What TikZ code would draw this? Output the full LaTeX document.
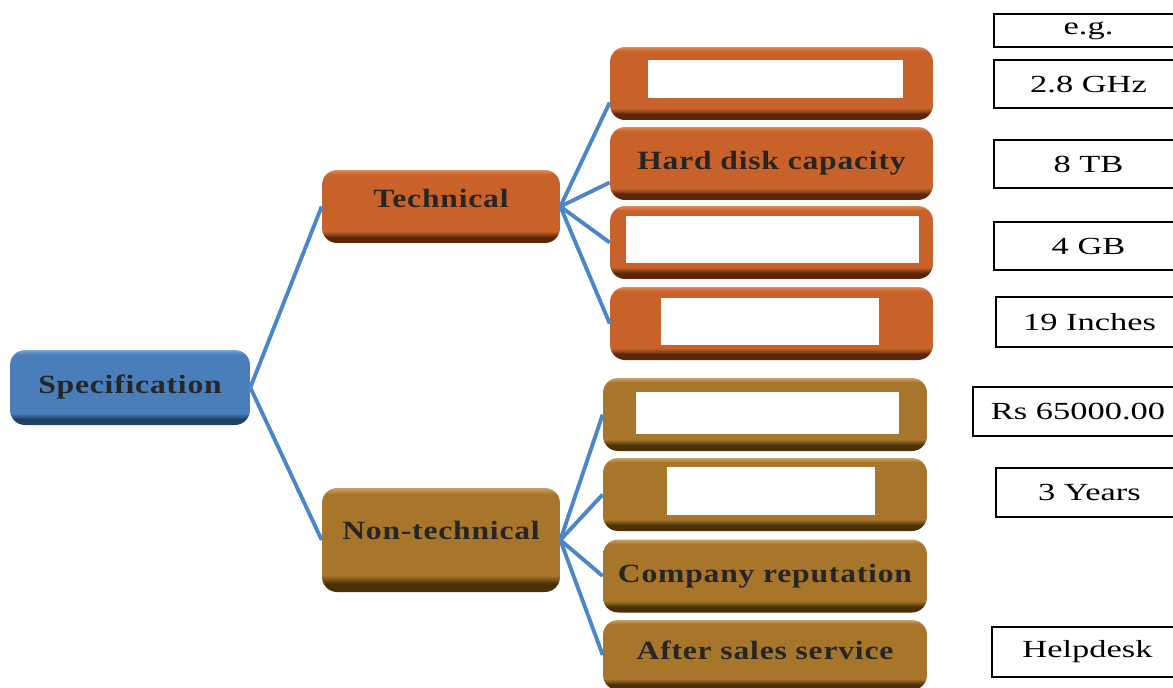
\documentclass[tikz,border=0pt]{standalone}
\usepackage{fontspec}
\setmainfont{Liberation Serif}
\newfontfamily\treefont[FakeStretch=1.2,LetterSpace=3]{Liberation Serif}
\newfontfamily\valfont[FakeStretch=1.4]{Liberation Serif}

\definecolor{specbase}{HTML}{4A7EBB}
\definecolor{specdark}{HTML}{1F3F66}
\definecolor{speclight}{HTML}{7EA6D6}
\definecolor{techbase}{HTML}{C8622A}
\definecolor{techdark}{HTML}{5A2508}
\definecolor{techlight}{HTML}{E08A5A}
\definecolor{nonbase}{HTML}{A8762B}
\definecolor{nondark}{HTML}{4A3008}
\definecolor{nonlight}{HTML}{C9A066}
\definecolor{linkblue}{HTML}{4A86C8}

\pgfdeclareverticalshading{specshade}{100bp}{color(0bp)=(specdark); color(29bp)=(specdark); color(33bp)=(specbase); color(72bp)=(specbase); color(75bp)=(speclight); color(100bp)=(speclight)}
\pgfdeclareverticalshading{techshade}{100bp}{color(0bp)=(techdark); color(29bp)=(techdark); color(33bp)=(techbase); color(72bp)=(techbase); color(75bp)=(techlight); color(100bp)=(techlight)}
\pgfdeclareverticalshading{nonshade}{100bp}{color(0bp)=(nondark); color(29bp)=(nondark); color(33bp)=(nonbase); color(72bp)=(nonbase); color(75bp)=(nonlight); color(100bp)=(nonlight)}

\tikzset{
  treebox/.style={rounded corners=0.3cm, inner sep=0pt, text=black!85,
    font=\treefont\bfseries\fontsize{15}{17}\selectfont},
  specbox/.style={treebox, shading=specshade},
  techbox/.style={treebox, shading=techshade},
  nonbox/.style={treebox, shading=nonshade},
  answer/.style={fill=white, inner sep=0pt},
  valbox/.style={line width=1.1pt, font=\valfont\fontsize{14}{16}\selectfont},
  link/.style={draw=linkblue, line width=2.2pt}
}

\begin{document}
\begin{tikzpicture}[x=0.02cm, y=-0.02cm]
	\clip (0,0) rectangle (1173,687);
	
	% tree
	\node[specbox, minimum width=4.8cm, minimum height=1.5cm] (spec) at (130,387.5) {Specification};
	\node[techbox, minimum width=4.76cm, minimum height=1.46cm, text depth=0.34cm] (tech) at (441,206.5) {Technical};
	\node[nonbox, minimum width=4.76cm, minimum height=2.08cm, text depth=0.4cm] (nontech) at (441,540) {Non-technical};
	
	\node[techbox, minimum width=6.46cm, minimum height=1.46cm] (cpu) at (771.5,83.5) {};
	\node[techbox, minimum width=6.46cm, minimum height=1.46cm] (hdd) at (771.5,163.5) {Hard disk capacity};
	\node[techbox, minimum width=6.46cm, minimum height=1.46cm] (ram) at (771.5,242.5) {};
	\node[techbox, minimum width=6.46cm, minimum height=1.46cm] (screen) at (771.5,323.5) {};
	
	\node[nonbox, minimum width=6.48cm, minimum height=1.46cm] (price) at (765,414.5) {};
	\node[nonbox, minimum width=6.48cm, minimum height=1.46cm] (warranty) at (765,494.5) {};
	\node[nonbox, minimum width=6.48cm, minimum height=1.46cm] (company) at (765,576) {Company reputation};
	\node[nonbox, minimum width=6.48cm, minimum height=1.4cm, text depth=0.2cm] (service) at (765,655) {After sales service};
	
	% blank answer boxes
	\node[answer, minimum width=5.1cm, minimum height=0.76cm] (cpu-ans) at (775.5,79) {};
	\node[answer, minimum width=5.86cm, minimum height=0.94cm] (ram-ans) at (772.5,239.5) {};
	\node[answer, minimum width=4.36cm, minimum height=0.94cm] (screen-ans) at (770,321.5) {};
	\node[answer, minimum width=5.26cm, minimum height=0.84cm] (price-ans) at (767.5,413) {};
	\node[answer, minimum width=4.16cm, minimum height=0.96cm] (warranty-ans) at (771,491) {};
	
	% links
	\draw[link] (spec.east) -- (tech.west);
	\draw[link] (spec.east) -- (nontech.west);
	
	\draw[link] (tech.east) -- ([yshift=-0.38cm]cpu.west);
	\draw[link] (tech.east) -- ([yshift=-0.38cm]hdd.west);
	\draw[link] (tech.east) -- (ram.west);
	\draw[link] (tech.east) -- (screen.west);
	
	\draw[link] (nontech.east) -- (price.west);
	\draw[link] (nontech.east) -- (warranty.west);
	\draw[link] (nontech.east) -- (company.west);
	\draw[link] (nontech.east) -- (service.west);
	
	% examples
	\draw[valbox] (994,14) rectangle (1183,47) node[midway] (eg) {e.g.};
	\draw[valbox] (994,60) rectangle (1183,108) node[midway] (ghz) {2.8 GHz};
	\draw[valbox] (994,140) rectangle (1183,188) node[midway] (tb) {8 TB};
	\draw[valbox] (994,222) rectangle (1183,270) node[midway] (gb) {4 GB};
	\draw[valbox] (996,297) rectangle (1183,347) node[midway] (inches) {19 Inches};
	\draw[valbox] (973,387) rectangle (1183,436) node[midway] (rs) {Rs 65000.00};
	\draw[valbox] (996,468) rectangle (1183,517) node[midway] (years) {3 Years};
	\draw[valbox] (992,627) rectangle (1183,677) node[midway] (helpdesk) {Helpdesk};
\end{tikzpicture}
\end{document}
